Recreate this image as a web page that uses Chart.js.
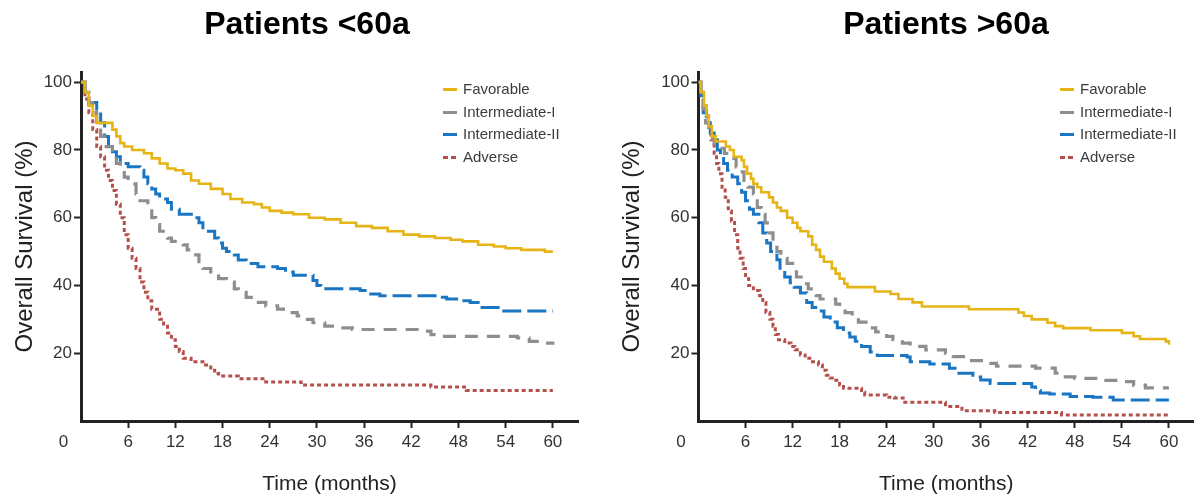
<!DOCTYPE html>
<html><head><meta charset="utf-8">
<script src="https://cdn.jsdelivr.net/npm/chart.js@4.4.0/dist/chart.umd.min.js"></script>
<style>
html,body{margin:0;padding:0;background:#fff;width:1194px;height:500px;overflow:hidden;font-family:"Liberation Sans",Arial,sans-serif;}
#wrap{position:relative;width:1194px;height:500px;}
canvas{position:absolute;top:0;}
.title{position:absolute;top:5px;width:400px;text-align:center;font-weight:bold;font-size:32px;line-height:36px;color:#000;}
.legend{position:absolute;top:78px;font-size:15px;color:#3c3c3c;}
.legend .row{height:22.5px;line-height:22.5px;position:relative;padding-left:20px;white-space:nowrap;}
.legend .sw{position:absolute;left:0;top:10px;width:14px;height:3px;}
</style></head>
<body>
<div id="wrap">
  <canvas id="c1" width="597" height="500" style="left:0"></canvas>
  <canvas id="c2" width="597" height="500" style="left:597px"></canvas>
  <div class="title" style="left:107px">Patients &lt;60a</div>
  <div class="title" style="left:746px">Patients &gt;60a</div>
  <div class="legend" id="lg1" style="left:443px"></div>
  <div class="legend" id="lg2" style="left:1060px"></div>
</div>
<script>
// ---- data ----
const seriesNames = ['Favorable', 'Intermediate-I', 'Intermediate-II', 'Adverse'];
const xTickStep = 6;
const yTickStep = 20;

// Patients <60a
const favYoungT = [0,0.5,1,1.5,2,3.5,4,4.5,5,5.5,6.5,8,9,10,11,12,13,14,15,16.5,18,19,20.5,22,23,24,25.5,27,29,31,33,35,37,39,41,43,45,47,48.5,50.5,52.5,54,56,59,60];
const favYoungS = [100,97,93,90,88,88,86,84,82,81,80,79,77.5,76,74.5,74,73,71,70,68.5,67,65.5,64.5,64,63,62,61.5,61,60,59.5,58.5,57.5,57,56,55,54.5,54,53.5,53,52,51.5,51,50.5,50,50];
const int1YoungT = [0,0.5,1,1.5,2,2.5,3,4,4.5,5,5.5,6,7,7.5,8.5,9,9.5,10,11,11.5,13,13.5,14,15,15.5,16.5,17.5,18.5,19.5,20,21,22,23.5,25,26,27.5,28.5,29.5,31,32.5,34.5,43.5,44.5,46,55.5,57,59,60];
const int1YoungS = [100,97,94,91,87,84,81,78,76,74,72,70,67,65,62,60,58,56,54,53,52,50.5,49,47,45,44,42,41,39,38,36.5,35,34,33,32,31,30,29,28,27.5,27,26.5,25.5,25,24.5,23.5,23,22.5];
const int2YoungT = [0,0.5,1,2,2.5,3,3.5,4,4.5,5,6,7.5,8,8.5,9,9.5,10,11,11.5,12.5,14.5,15,15.5,16,17,17.5,18,18.5,19.5,20,21,22.5,25,26,27,29.5,30,30.5,35.5,36.5,38,45.5,46.5,48,49.5,50.5,51,53.5,60];
const int2YoungS = [100,97,94,92,88,84,81,79.5,78,76,75,74,72,70,68.5,67,65.5,64.5,62.5,61,60,58.5,57,56,54,52.5,51,50,49,47.5,46.5,45.5,45,44,43,41.5,40,39,38.5,37.5,37,36.5,36,35.5,35,34,33.5,32.5,32.5];
const advYoungT = [0,0.5,1,1.5,2,2.5,3,3.5,4,4.5,5,5.5,6,6.5,7,7.5,8,8.5,9,10,10.5,11,11.5,12,12.5,13,14,15.5,16.5,17,17.5,20,23.5,28,44.5,49,60];
const advYoungS = [100,95,91,86,81,78,74,71,68,64,60,55,51,48,45,41,38,35.5,33,30,28,26,24,22,20.5,18.5,17.5,16.5,15,14,13.3,12.5,11.5,10.6,10,9,9];

// Patients >60a
const favOldT = [0,0.3,0.7,1,1.3,1.7,2.2,3.5,4,4.5,5.5,5.8,6.2,6.7,7,7.5,8,9,9.5,10,10.5,11.3,12,12.6,13,14,14.5,15,15.5,16,17,17.5,18,18.6,19,22.5,24.5,25.5,27.3,28.5,34.5,40.8,41.5,42.5,44.5,45.5,46.5,50,54,55.5,56.3,59.6,60];
const favOldS = [100,97,93,90,87,84,82.5,81,80,78,77,75,73,71.5,70,69,67.5,66,64.5,63,62,60,58.5,57,56,54.5,52,50.5,48.5,47,45,43.5,42,40.5,39.5,38.2,37.5,36,35,33.8,33,32,31,30,29,28,27.4,26.8,26,25,24.2,23.5,22.5];
const int1OldT = [0,0.3,0.6,0.9,1.3,1.8,2,3.3,4,4.8,5.3,5.8,6.3,7,7.5,8,8.5,9,9.5,10,10.5,11.3,12,12.5,13.3,14,15,15.5,17.5,18,18.7,19.6,20.4,21.8,22.6,24,24.8,26,27,29,31.5,32.5,34,37,38,43,45.5,46.5,48,51.5,54,55.5,57,60];
const int1OldS = [100,96,92,88,85.5,83,80.5,79,77.5,75,73.5,71,69,67,63,61,58.5,55.5,52.5,50,48,46.5,44,42.5,40.5,39,37,36,34.5,33,32,30.7,29.2,27.5,26.3,25,24,23,22,21,20,19,17.8,17,16.2,15.6,14.1,13,12.6,12,11.6,10.6,9.8,9.8];
const int2OldT = [0,0.3,0.6,1,1.5,2,2.4,2.8,3.2,3.7,4.3,5,5.5,6,6.5,7,7.7,8.2,8.7,9.2,10,10.4,11,11.7,12.2,13,13.8,14.5,15.2,16,16.8,17.7,18.5,19.3,20,20.8,21.9,22.8,26.6,27,29.5,32,33,35,36,37.2,42.5,43,43.6,44.8,47.4,50.3,52.9,60];
const int2OldS = [100,96,91,88,85,83,80,78,76,74,72,70,67.5,65,62.5,61,58.5,55.5,52.5,50,47.6,44.6,42.5,40.8,39.5,37.8,35,33.5,32.5,30.7,29.2,27.5,26,24.8,23.5,22,20.4,19.3,18.9,17.5,16.8,15.6,14.1,13,12.1,11.1,10,9,8.3,8,7.2,7,6.2,6.2];
const advOldT = [0,0.3,0.6,1,1.3,1.6,2,2.3,2.6,3,3.4,3.8,4.2,4.6,5,5.3,5.7,6,6.4,7,7.8,8.2,8.6,9.1,9.5,9.8,10.2,11,11.8,12.3,13,13.6,14.2,15.3,15.8,16.3,16.8,17.3,18,18.5,20.8,21.2,24,25,26.1,31.5,33.6,37.8,46.3,60];
const advOldS = [100,97,93,90,87,83,79,76,73,69,66,62,59,55,51,48,45,42,40,38.5,37,35,32,30,28,25.5,24,23,22,21,19.5,18.5,17.5,16.5,15,13.5,12.7,12,10.6,9.7,8.5,7.7,7,6.8,5.5,4.3,3,2.5,1.8,1.8];

// ---- styles ----
const FONT = '"Liberation Sans", Arial, sans-serif';
const styles = [
  {color:'#E6B414', dash:[], width:2.6},
  {color:'#8E8E8E', dash:[13,9], width:3.2},
  {color:'#1A75C2', dash:[19,6], width:3},
  {color:'#B4504B', dash:[4,3], width:3}
];

function toPts(t, s){ return t.map((v,i)=>({x:v, y:s[i]})); }

const cornerZero = {
  id:'cornerZero',
  afterDraw(chart){
    const xs = chart.scales.x;
    const items = xs.getLabelItems();
    const it = items.find(i => i.label !== '' ) ;
    if(!it) return;
    const ctx = chart.ctx;
    ctx.save();
    ctx.font = it.font.string;
    ctx.fillStyle = '#333';
    ctx.textAlign = 'center';
    ctx.textBaseline = it.options.textBaseline;
    ctx.fillText('0', xs.getPixelForValue(0) - 17.5, it.options.translation[1] + it.textOffset);
    ctx.restore();
  }
};

function makePanel(id, sets, yWidth, padRight, yTitlePad){
  const hide = 'rgba(0,0,0,0)';
  return new Chart(document.getElementById(id), {
    type:'line',
    data:{datasets: sets.map((p,i)=>({
      label: seriesNames[i],
      data: toPts(p[0], p[1]),
      borderColor: styles[i].color,
      borderWidth: styles[i].width,
      borderDash: styles[i].dash,
      stepped: true,
      pointRadius: 0,
      fill: false,
      tension: 0
    }))},
    options:{
      responsive:false, animation:false, devicePixelRatio:1,
      layout:{padding:{left:0,right:padRight,top:72,bottom:0}},
      plugins:{legend:{display:false}, title:{display:false}, tooltip:{enabled:false}},
      scales:{
        x:{type:'linear', min:0, max:63.2,
          ticks:{stepSize:xTickStep, includeBounds:false, autoSkip:false, maxRotation:0,
            color:'#333', font:{family:FONT, size:17}, padding:4,
            callback:v => v === 0 ? '' : String(v)},
          grid:{drawOnChartArea:false, drawTicks:true, tickLength:7, tickWidth:2,
            tickColor: c => (c.tick && c.tick.value === 0) ? hide : '#222'},
          border:{display:true, color:'#222', width:3},
          title:{display:true, text:'Time (months)', color:'#222', font:{family:FONT, size:21}, padding:{top:0,bottom:3}},
          afterFit: s => { s.height = 79; }
        },
        y:{type:'linear', min:0, max:103,
          ticks:{stepSize:yTickStep, includeBounds:false, color:'#333', font:{family:FONT, size:17}, padding:2,
            callback:v => v === 0 ? '' : String(v)},
          grid:{drawOnChartArea:false, drawTicks:true, tickLength:7, tickWidth:2,
            tickColor: c => (c.tick && c.tick.value === 0) ? hide : '#222'},
          border:{display:true, color:'#222', width:3},
          title:{display:true, text:'Overall Survival (%)', color:'#222', font:{family:FONT, size:24}, padding:{top:yTitlePad,bottom:0}},
          afterFit: s => { s.width = yWidth; }
        }
      }
    },
    plugins:[cornerZero]
  });
}

makePanel('c1', [[favYoungT,favYoungS],[int1YoungT,int1YoungS],[int2YoungT,int2YoungS],[advYoungT,advYoungS]], 81, 19, 11);
makePanel('c2', [[favOldT,favOldS],[int1OldT,int1OldS],[int2OldT,int2OldS],[advOldT,advOldS]], 101.5, 0, 21);

function buildLegend(id){
  const el = document.getElementById(id);
  seriesNames.forEach((n,i)=>{
    const row = document.createElement('div'); row.className='row';
    const sw = document.createElement('span'); sw.className='sw';
    if(i === 3){
      sw.style.background = 'repeating-linear-gradient(to right,' + styles[i].color + ' 0 5px, transparent 5px 8px)';
    } else {
      sw.style.background = styles[i].color;
    }
    row.appendChild(sw);
    row.appendChild(document.createTextNode(n));
    el.appendChild(row);
  });
}
buildLegend('lg1'); buildLegend('lg2');
</script>
</body></html>
